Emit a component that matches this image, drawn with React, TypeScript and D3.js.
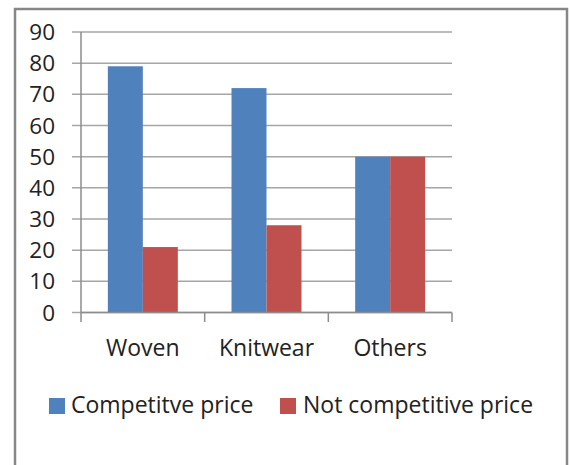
import React from "react";
import * as d3 from "d3";

const categories = ["Woven", "Knitwear", "Others"];
const seriesNames = ["Competitve price", "Not competitive price"];
const competitive = [79, 72, 50];
const notCompetitive = [21, 28, 50];
const yTicks = [0, 10, 20, 30, 40, 50, 60, 70, 80, 90];
const colors = ["#4F81BD", "#C0504D"];

export default function App() {
  const W = 570, H = 465;
  const left = 81, right = 452, top = 32, bottom = 312.5;
  const y = d3.scaleLinear().domain([0, 90]).range([bottom, top]);
  const x0 = d3.scaleBand().domain(categories).range([left, right]).padding(0);
  const x1 = d3
    .scaleBand()
    .domain(seriesNames)
    .range([0, x0.step()])
    .paddingInner(0)
    .paddingOuter(0.767);
  const values = [competitive, notCompetitive];
  const font = "'Open Sans', sans-serif";
  const gridColor = "#a6a6a6";
  const boundaries = [left, ...categories.map((c) => (x0(c) as number) + x0.step())];

  return (
    <svg
      width={W}
      height={H}
      style={{ position: "absolute", left: 0, top: 0, background: "#fff" }}
    >
      <rect x={0} y={0} width={W} height={H} fill="#fff" />
      <rect x={15} y={9} width={552} height={480} fill="#fff" stroke="#878787" strokeWidth={2.5} />
      {yTicks.map((t) => (
        <g key={t}>
          <line x1={72} x2={right} y1={y(t)} y2={y(t)} stroke={gridColor} strokeWidth={1.5} />
          <text
            x={55}
            y={y(t)}
            dy="0.36em"
            textAnchor="end"
            fontFamily={font}
            fontSize={22.5}
            fill="#222"
          >
            {t}
          </text>
        </g>
      ))}
      {categories.map((c, i) =>
        seriesNames.map((s, j) => (
          <rect
            key={c + s}
            x={(x0(c) as number) + (x1(s) as number)}
            y={y(values[j][i])}
            width={x1.bandwidth()}
            height={y(0) - y(values[j][i])}
            fill={colors[j]}
          />
        ))
      )}
      <line x1={left} x2={left} y1={top} y2={bottom} stroke="#8c8c8c" strokeWidth={1.5} />
      <line x1={left} x2={right} y1={bottom} y2={bottom} stroke="#8c8c8c" strokeWidth={1.5} />
      {boundaries.map((b, i) => (
        <line key={i} x1={b} x2={b} y1={bottom} y2={322} stroke="#8c8c8c" strokeWidth={1.5} />
      ))}
      {categories.map((c) => (
        <text
          key={c}
          x={(x0(c) as number) + x0.bandwidth() / 2}
          y={356}
          textAnchor="middle"
          fontFamily={font}
          fontSize={23}
          fill="#222"
        >
          {c}
        </text>
      ))}
      <g>
        <rect x={49} y={398} width={16} height={16} fill={colors[0]} />
        <text x={71} y={413} fontFamily={font} fontSize={23} fill="#222">
          {seriesNames[0]}
        </text>
        <rect x={280} y={398} width={16} height={16} fill={colors[1]} />
        <text x={303} y={413} fontFamily={font} fontSize={23} fill="#222">
          {seriesNames[1]}
        </text>
      </g>
    </svg>
  );
}
